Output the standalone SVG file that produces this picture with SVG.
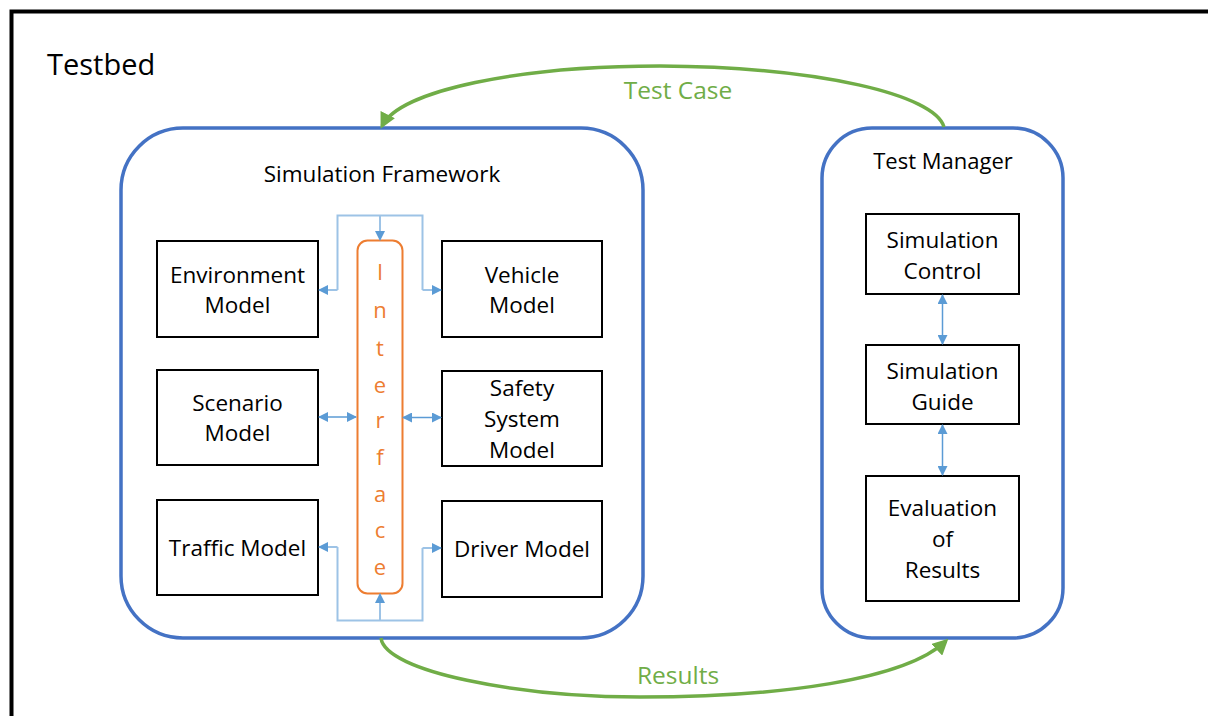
<svg xmlns="http://www.w3.org/2000/svg" width="1208" height="716" viewBox="0 0 1208 716">
<defs>
<marker id="ab" viewBox="0 0 10 10" refX="9" refY="5" markerWidth="10" markerHeight="10" markerUnits="userSpaceOnUse" orient="auto-start-reverse"><path d="M0,0 L10,5 L0,10 z" fill="#5B9BD5"/></marker>
<marker id="ag" viewBox="0 0 10 10" refX="8" refY="5" markerWidth="16" markerHeight="16" markerUnits="userSpaceOnUse" orient="auto"><path d="M0,0 L10,5 L0,10 z" fill="#70AD47"/></marker>
<style>
.t{font-family:"Open Sans","Noto Sans",sans-serif;fill:#000;text-anchor:middle;font-size:22.5px}
.box{fill:#fff;stroke:#000;stroke-width:2}
.grp{fill:#fff;stroke:#4472C4;stroke-width:3.5}
.c{fill:none;stroke:#9DC3E6;stroke-width:2}
.cd{fill:none;stroke:#5B9BD5;stroke-width:1.5}
.g{fill:none;stroke:#70AD47;stroke-width:3.5}
.gt{font-family:"Open Sans","Noto Sans",sans-serif;fill:#70AD47;font-size:24.5px;text-anchor:middle}
.it{font-family:"Open Sans","Noto Sans",sans-serif;fill:#ED7D31;font-size:22px;text-anchor:middle}
</style>
</defs>
<rect x="0" y="0" width="1208" height="716" fill="#fff"/>
<rect id="testbed" x="11.5" y="11.5" width="1220" height="740" fill="none" stroke="#000" stroke-width="4"/>
<text x="47" y="75" style="font-family:'Open Sans','Noto Sans',sans-serif;font-size:29px;fill:#000">Testbed</text>

<g id="simulation-framework">
<rect class="grp" x="121" y="128" width="522" height="510" rx="62"/>
<text class="t" x="382" y="182" style="font-size:22.5px">Simulation Framework</text>
</g>
<g id="test-manager">
<rect class="grp" x="822" y="128" width="241" height="510" rx="50"/>
<text class="t" x="943" y="169" style="font-size:22px">Test Manager</text>
</g>

<g id="environment-model"><rect class="box" x="157" y="241" width="161" height="96"/><text class="t" x="237.5" y="283">Environment</text><text class="t" x="237.5" y="313">Model</text></g>
<g id="scenario-model"><rect class="box" x="157" y="370" width="161" height="95"/><text class="t" x="237.5" y="411">Scenario</text><text class="t" x="237.5" y="441">Model</text></g>
<g id="traffic-model"><rect class="box" x="157" y="500" width="161" height="95"/><text class="t" x="237.5" y="556">Traffic Model</text></g>
<g id="vehicle-model"><rect class="box" x="442" y="241" width="160" height="96"/><text class="t" x="522" y="283">Vehicle</text><text class="t" x="522" y="313">Model</text></g>
<g id="safety-system-model"><rect class="box" x="442" y="371" width="160" height="95"/><text class="t" x="522" y="396">Safety</text><text class="t" x="522" y="427">System</text><text class="t" x="522" y="458">Model</text></g>
<g id="driver-model"><rect class="box" x="442" y="501" width="160" height="96"/><text class="t" x="522" y="557">Driver Model</text></g>

<g id="interface">
<rect x="357.5" y="240.5" width="45" height="353" rx="10" fill="#fff" stroke="#ED7D31" stroke-width="2"/>
<text class="it" x="380" y="280">I</text>
<text class="it" x="380" y="318">n</text>
<text class="it" x="380" y="356">t</text>
<text class="it" x="380" y="393">e</text>
<text class="it" x="380" y="428">r</text>
<text class="it" x="380" y="465">f</text>
<text class="it" x="380" y="502">a</text>
<text class="it" x="380" y="538">c</text>
<text class="it" x="380" y="575">e</text>
</g>

<g id="simulation-control"><rect class="box" x="866" y="214" width="153" height="80"/><text class="t" x="942.5" y="248">Simulation</text><text class="t" x="942.5" y="279">Control</text></g>
<g id="simulation-guide"><rect class="box" x="866" y="345" width="153" height="79"/><text class="t" x="942.5" y="379">Simulation</text><text class="t" x="942.5" y="410">Guide</text></g>
<g id="evaluation-of-results"><rect class="box" x="866" y="476" width="153" height="125"/><text class="t" x="942.5" y="516">Evaluation</text><text class="t" x="942.5" y="547">of</text><text class="t" x="942.5" y="578">Results</text></g>

<g id="connectors">
<path class="c" d="M337.5,290 V215.5 H422.5 V290"/>
<path class="c" d="M380,215.5 V240" marker-end="url(#ab)"/>
<path class="c" d="M337.5,290 H319" marker-end="url(#ab)"/>
<path class="c" d="M422.5,290 H441" marker-end="url(#ab)"/>
<path class="c" d="M337.5,547 V620.5 H422.5 V548"/>
<path class="c" d="M380,620.5 V594" marker-end="url(#ab)"/>
<path class="c" d="M337.5,547 H319" marker-end="url(#ab)"/>
<path class="c" d="M422.5,548 H441" marker-end="url(#ab)"/>
<path class="cd" d="M319,417 H356" marker-start="url(#ab)" marker-end="url(#ab)"/>
<path class="cd" d="M403,417.5 H441" marker-start="url(#ab)" marker-end="url(#ab)"/>
<path class="cd" d="M942.5,295 V344" marker-start="url(#ab)" marker-end="url(#ab)"/>
<path class="cd" d="M942.5,425 V475" marker-start="url(#ab)" marker-end="url(#ab)"/>
<path class="g" d="M944,127 C935,95 820,67 660,66 C520,66 400,90 382,126" marker-end="url(#ag)"/>
<text class="gt" x="678" y="99">Test Case</text>
<path class="g" d="M381,638 C385,672 520,697 640,697 C780,697 905,680 946,641" marker-end="url(#ag)"/>
<text class="gt" x="678" y="684">Results</text>
</g>
</svg>
